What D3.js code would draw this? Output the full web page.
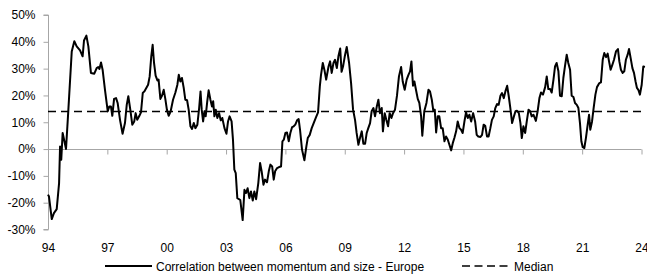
<!DOCTYPE html>
<html>
<head>
<meta charset="utf-8">
<script src="https://cdn.jsdelivr.net/npm/d3@7"></script>
<style>
	body { margin: 0; background: #fff; }
	svg { display: block; font-family: "Liberation Sans", Arial, sans-serif; }
	.axis text { font-size: 12px; fill: #000; }
	.axis path, .axis line { stroke: #a6a6a6; }
	.legend text { font-size: 12px; }
</style>
</head>
<body>
<svg width="647" height="276"></svg>
<script>
// correlation between momentum and size (Europe)
const years = [
	1994.00, 1994.05, 1994.19, 1994.30, 1994.44, 1994.56, 1994.61, 1994.67, 1994.74, 1994.83, 1994.91,
	1995.03, 1995.20, 1995.33, 1995.45, 1995.62, 1995.75, 1995.82, 1995.94,
	1996.04, 1996.17, 1996.34, 1996.46, 1996.54, 1996.60, 1996.68, 1996.76, 1996.88,
	1997.02, 1997.10, 1997.18, 1997.25, 1997.34, 1997.44, 1997.52, 1997.64, 1997.77, 1997.89, 1997.98,
	1998.06, 1998.16, 1998.26, 1998.36, 1998.43, 1998.51, 1998.62, 1998.70, 1998.79, 1998.87, 1998.94,
	1999.06, 1999.14, 1999.22, 1999.29, 1999.36, 1999.44, 1999.53, 1999.59, 1999.68, 1999.76, 1999.85, 1999.93,
	2000.01, 2000.10, 2000.20, 2000.32, 2000.44, 2000.54, 2000.61, 2000.69, 2000.77, 2000.86, 2000.94,
	2001.03, 2001.11, 2001.20, 2001.28, 2001.37, 2001.45, 2001.55, 2001.64, 2001.71, 2001.77, 2001.84, 2001.91, 2001.97,
	2002.05, 2002.12, 2002.21, 2002.29, 2002.35, 2002.41, 2002.48, 2002.56, 2002.65, 2002.73, 2002.81, 2002.92,
	2003.02, 2003.10, 2003.18, 2003.28, 2003.35, 2003.42, 2003.49, 2003.57, 2003.72, 2003.84, 2003.93,
	2004.01, 2004.09, 2004.18, 2004.26, 2004.35, 2004.43, 2004.52, 2004.63, 2004.72, 2004.80, 2004.89, 2004.97,
	2005.07, 2005.16, 2005.24, 2005.33, 2005.41, 2005.48, 2005.58, 2005.68, 2005.78, 2005.85, 2005.92,
	2006.00, 2006.08, 2006.17, 2006.25, 2006.34, 2006.42, 2006.50, 2006.59, 2006.67, 2006.74, 2006.84, 2006.96,
	2007.06, 2007.13, 2007.23, 2007.33, 2007.43, 2007.55, 2007.65, 2007.74, 2007.80, 2007.89, 2007.97,
	2008.06, 2008.18, 2008.26, 2008.34, 2008.43, 2008.51, 2008.60, 2008.68, 2008.77, 2008.84, 2008.92,
	2009.00, 2009.10, 2009.22, 2009.32, 2009.42, 2009.52, 2009.60, 2009.69, 2009.77, 2009.86, 2009.94,
	2010.03, 2010.11, 2010.19, 2010.28, 2010.36, 2010.45, 2010.53, 2010.62, 2010.70, 2010.78, 2010.87, 2010.93,
	2011.02, 2011.10, 2011.19, 2011.27, 2011.36, 2011.44, 2011.54, 2011.64, 2011.74, 2011.85, 2011.93,
	2012.03, 2012.13, 2012.22, 2012.30, 2012.37, 2012.45, 2012.52, 2012.60, 2012.69, 2012.77, 2012.86, 2012.92,
	2013.02, 2013.13, 2013.23, 2013.31, 2013.40, 2013.48, 2013.55, 2013.62, 2013.70, 2013.78, 2013.87, 2013.95,
	2014.04, 2014.12, 2014.21, 2014.29, 2014.38, 2014.46, 2014.54, 2014.63, 2014.71, 2014.80, 2014.88, 2014.96,
	2015.05, 2015.13, 2015.22, 2015.30, 2015.39, 2015.49, 2015.59, 2015.67, 2015.75, 2015.86, 2015.94,
	2016.02, 2016.10, 2016.19, 2016.27, 2016.36, 2016.44, 2016.53, 2016.61, 2016.70, 2016.78, 2016.87, 2016.95,
	2017.04, 2017.12, 2017.21, 2017.29, 2017.37, 2017.46, 2017.54, 2017.63, 2017.71, 2017.80, 2017.88, 2017.95,
	2018.03, 2018.12, 2018.20, 2018.29, 2018.37, 2018.45, 2018.54, 2018.66, 2018.75, 2018.84, 2018.92,
	2019.02, 2019.13, 2019.21, 2019.29, 2019.38, 2019.46, 2019.55, 2019.63, 2019.71, 2019.80, 2019.88, 2019.97,
	2020.05, 2020.13, 2020.22, 2020.30, 2020.39, 2020.47, 2020.56, 2020.64, 2020.73, 2020.81, 2020.89, 2020.96,
	2021.03, 2021.11, 2021.19, 2021.28, 2021.35, 2021.41, 2021.50, 2021.58, 2021.67, 2021.75, 2021.87, 2021.95,
	2022.04, 2022.12, 2022.21, 2022.29, 2022.36, 2022.44, 2022.53, 2022.61, 2022.71, 2022.81, 2022.88, 2022.96,
	2023.05, 2023.13, 2023.21, 2023.30, 2023.37, 2023.45, 2023.54, 2023.62, 2023.70, 2023.77, 2023.84, 2023.92,
	2024.01, 2024.09, 2024.17
];
const corr = [
	-17.0, -17.7, -26.1, -23.9, -22.4, -12.7, 1.0, -4.0, 6.0, 2.9, 0.0,
	14.7, 36.4, 40.2, 38.3, 36.8, 34.6, 40.5, 42.3,
	38.3, 28.4, 28.1, 30.2, 30.6, 29.9, 32.3, 29.6, 22.1,
	14.1, 15.9, 15.9, 12.4, 18.7, 19.0, 17.2, 10.9, 5.7, 9.7, 16.5,
	19.7, 14.7, 9.1, 10.3, 13.4, 10.9, 12.4, 13.7, 20.9, 21.5, 22.4,
	24.0, 27.1, 34.6, 38.9, 32.1, 27.4, 25.6, 25.9, 18.7, 19.9, 22.1, 18.7,
	14.7, 12.4, 14.1, 18.4, 21.1, 24.0, 27.7, 25.2, 26.5, 22.8, 18.4,
	18.2, 14.7, 8.5, 7.5, 9.7, 7.8, 9.1, 15.3, 21.5, 14.7, 10.3, 14.1, 12.2,
	17.8, 21.9, 18.4, 15.9, 17.8, 12.2, 14.7, 11.6, 13.4, 10.7, 11.6, 7.8,
	5.7, 10.3, 12.2, 10.3, 3.5, -7.7, -9.0, -18.3, -19.0, -26.5, -15.2,
	-16.4, -14.6, -18.3, -15.8, -19.2, -15.8, -18.7, -12.7, -5.2, -8.3, -13.3, -11.4,
	-12.4, -8.3, -5.8, -6.5, -11.4, -8.3, -7.1, -6.7, -6.5, 2.9, 3.5,
	6.0, 6.2, 2.9, 6.0, 8.2, 8.5, 9.1, 10.7, 11.2, 7.2, -0.2, -4.2,
	1.0, 4.1, 5.3, 7.8, 9.7, 11.9, 13.7, 23.4, 27.7, 32.1, 29.6,
	25.9, 30.8, 32.7, 28.4, 32.1, 33.3, 30.2, 34.6, 37.5, 28.8, 31.0,
	34.5, 38.1, 32.1, 24.6, 14.7, 10.9, 6.0, 1.6, 4.1, 6.6, 2.0,
	2.0, 6.0, 7.8, 9.7, 14.1, 15.3, 12.2, 15.9, 18.4, 13.4, 15.3, 6.6,
	13.4, 10.9, 8.5, 13.4, 11.6, 13.4, 14.7, 19.9, 27.1, 30.6, 25.2,
	22.1, 25.9, 27.7, 29.0, 32.7, 23.6, 25.2, 22.1, 18.7, 17.2, 12.2, 5.0,
	14.1, 17.2, 22.1, 21.5, 18.4, 14.1, 14.7, 6.2, 12.2, 12.2, 7.8, 7.8,
	2.9, 4.7, 3.5, 1.6, -0.5, 2.2, 4.1, 6.6, 10.3, 7.8, 7.2, 6.0,
	10.3, 13.7, 11.6, 12.8, 10.3, 13.4, 10.3, 5.3, 4.7, 4.5, 5.3,
	9.1, 8.7, 4.7, 4.7, 7.8, 10.9, 12.2, 15.3, 16.8, 16.5, 19.9, 20.9,
	19.0, 21.5, 23.6, 19.7, 15.3, 9.7, 11.9, 14.1, 14.3, 13.4, 9.7, 4.1,
	8.5, 6.0, 10.3, 14.7, 14.1, 12.2, 12.8, 10.5, 14.1, 19.0, 21.1,
	20.3, 23.1, 27.1, 22.4, 22.4, 21.1, 25.9, 30.8, 32.1, 29.0, 19.9, 19.7,
	26.5, 30.8, 35.2, 32.1, 29.6, 19.9, 19.4, 17.2, 16.5, 15.3, 9.7, 2.9,
	0.7, 0.4, 4.1, 9.1, 12.8, 7.2, 10.3, 15.3, 20.3, 23.1, 24.6, 24.9,
	33.3, 35.8, 34.3, 35.6, 32.7, 29.6, 31.5, 33.3, 36.4, 37.3, 32.7, 29.6,
	28.4, 29.0, 33.3, 35.2, 37.3, 34.0, 30.2, 28.4, 25.2, 22.8, 22.1, 20.3,
	24.0, 30.8, 30.6
];
const median = 14;
const xTicks = [1994, 1997, 2000, 2003, 2006, 2009, 2012, 2015, 2018, 2021, 2024];
const yTicks = [-30, -20, -10, 0, 10, 20, 30, 40, 50];
const seriesNames = ["Correlation between momentum and size - Europe", "Median"];

let svg = d3.select("svg");

let x = d3.scaleLinear().domain([1994, 2024]).range([48, 641.5]);
let y = d3.scaleLinear().domain([-30, 50]).range([229.5, 15]);

// y axis
let yAxis = svg.append("g")
	.attr("class", "axis")
	.attr("transform", "translate(48.5,0)")
	.call(d3.axisLeft(y).tickValues(yTicks).tickSize(5).tickPadding(8).tickFormat(d => d + "%"));
yAxis.select(".domain").attr("d", "M-5," + y(-30) + "H0V" + y(50) + "H-5");

// x axis sits on the zero line, labels down at the bottom
let xAxis = svg.append("g")
	.attr("class", "axis")
	.attr("transform", "translate(0," + (Math.round(y(0)) + 0.5) + ")")
	.call(d3.axisBottom(x).tickValues(xTicks).tickSize(5).tickFormat(d => String(d).slice(2)));
xAxis.select(".domain").attr("d", "M" + x(1994) + ",0H" + x(2024));
xAxis.selectAll("text").attr("y", 0).attr("dy", 0).attr("transform", "translate(0," + (252 - y(0)) + ")");

// median
svg.append("line")
	.attr("x1", x(1994)).attr("x2", x(2024))
	.attr("y1", y(median)).attr("y2", y(median))
	.attr("stroke", "#000").attr("stroke-width", 1.6)
	.attr("stroke-dasharray", "8,5");

// series
let line = d3.line()
	.x((d, i) => x(years[i]))
	.y(d => y(d));

svg.append("path")
	.datum(corr)
	.attr("fill", "none")
	.attr("stroke", "#000")
	.attr("stroke-width", 2)
	.attr("stroke-linejoin", "round")
	.attr("d", line);

// legend
let legend = svg.append("g").attr("class", "legend");
legend.append("line")
	.attr("x1", 105).attr("x2", 152).attr("y1", 266).attr("y2", 266)
	.attr("stroke", "#000").attr("stroke-width", 2);
legend.append("text").attr("x", 156).attr("y", 270.5).text(seriesNames[0]);
legend.append("line")
	.attr("x1", 462).attr("x2", 508).attr("y1", 266).attr("y2", 266)
	.attr("stroke", "#000").attr("stroke-width", 1.6)
	.attr("stroke-dasharray", "8,4.5");
legend.append("text").attr("x", 514).attr("y", 270.5).text(seriesNames[1]);
</script>
</body>
</html>
